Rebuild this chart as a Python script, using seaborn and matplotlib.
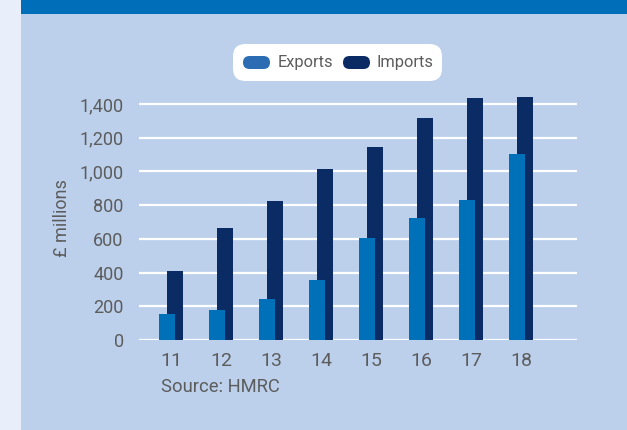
import numpy as np
import pandas as pd
import seaborn as sns
import matplotlib.pyplot as plt
from matplotlib.patches import FancyBboxPatch, Rectangle

# Trade values, £ millions
years = ["11", "12", "13", "14", "15", "16", "17", "18"]
exports = [155, 178, 243, 356, 605, 724, 830, 1103]
imports = [410, 664, 824, 1014, 1145, 1317, 1436, 1441]
y_ticks = [0, 200, 400, 600, 800, 1000, 1200, 1400]

PANEL = "#bcd0ec"
STRIP = "#e8eefa"
BAND = "#006eb9"
EXP_C = "#0070b8"
IMP_C = "#0b2b65"
TEXT_C = "#5c5c5c"

sns.set_theme(style="white")
plt.rcParams["font.family"] = ["Roboto", "DejaVu Sans"]

W, H = 627, 430
fig = plt.figure(figsize=(W / 100, H / 100), dpi=100)
fig.patch.set_facecolor(PANEL)

# page furniture: left strip and top band
fig.add_artist(Rectangle((0, 0), 20.5 / W, 1, transform=fig.transFigure,
                         facecolor=STRIP, edgecolor="none", zorder=0))
fig.add_artist(Rectangle((20.5 / W, 1 - 14 / H), 1, 14 / H, transform=fig.transFigure,
                         facecolor=BAND, edgecolor="none", zorder=0))

ax = fig.add_axes([139 / W, 90 / H, 438 / W, 245 / H])
ax.set_facecolor(PANEL)

idx = np.arange(len(years))
offset = 0.08
df_imp = pd.DataFrame({"pos": idx + offset, "value": imports})
df_exp = pd.DataFrame({"pos": idx - offset, "value": exports})

sns.barplot(data=df_imp, x="pos", y="value", native_scale=True, width=0.32,
            color=IMP_C, saturation=1, ax=ax, zorder=3, linewidth=0)
sns.barplot(data=df_exp, x="pos", y="value", native_scale=True, width=0.32,
            color=EXP_C, saturation=1, ax=ax, zorder=4, linewidth=0)

ax.set_xlim(-0.64, 8.12)
ax.set_ylim(0, 245 / (236 / 1400))
ax.set_yticks(y_ticks)
ax.set_yticklabels([f"{v:,}" for v in y_ticks])
ax.set_xticks(idx)
ax.set_xticklabels(years)
ax.yaxis.grid(True, color="white", linewidth=1.6, zorder=1)
ax.set_axisbelow(True)
for s in ax.spines.values():
    s.set_visible(False)
ax.tick_params(axis="y", length=0, pad=11, labelsize=13, labelcolor=TEXT_C)
ax.tick_params(axis="x", length=0, pad=9, labelsize=14, labelcolor=TEXT_C)
ax.set_xlabel("")
ax.set_ylabel("£ millions", fontsize=13, color=TEXT_C, labelpad=8)
ax.yaxis.set_label_coords(-0.155, (340 - 218) / 245)

# source note
fig.text(161 / W, 1 - 387 / H, "Source: HMRC", fontsize=13.2, color=TEXT_C,
         ha="left", va="center")

# legend box with pill-shaped keys
fig.add_artist(FancyBboxPatch((233 / W, 1 - 81 / H), 209 / W, 37 / H,
                              boxstyle="round,pad=0,rounding_size=0.02",
                              transform=fig.transFigure, facecolor="white",
                              edgecolor="none", mutation_aspect=W / H, zorder=5))
for x0, col, label, tx in [(243, "#2b6cb3", "Exports", 278), (343, IMP_C, "Imports", 377)]:
    fig.add_artist(FancyBboxPatch((x0 / W, 1 - 69 / H), 27 / W, 13 / H,
                                  boxstyle="round,pad=0,rounding_size=0.0104",
                                  transform=fig.transFigure, facecolor=col,
                                  edgecolor="none", mutation_aspect=W / H, zorder=6))
    fig.text(tx / W, 1 - 63 / H, label, fontsize=11.8, color=TEXT_C,
             ha="left", va="center", zorder=7)

fig.savefig("out.png", dpi=100, facecolor=fig.get_facecolor())
